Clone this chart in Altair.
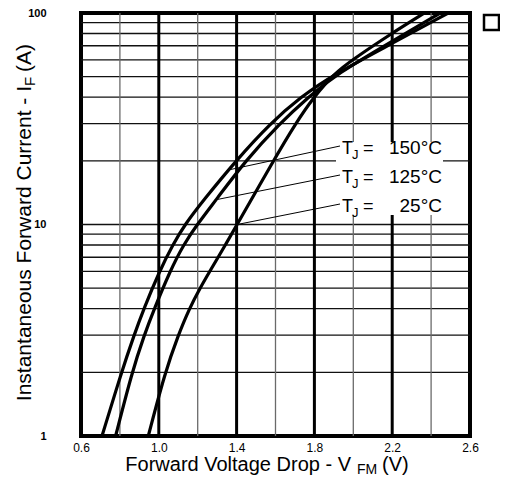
import altair as alt
import pandas as pd

# ---------------- data ----------------
V_150 = [0.708, 0.808, 0.873, 0.923, 1.003, 1.071, 1.134, 1.232, 1.396, 1.572, 1.728, 1.897, 2.184, 2.488]
I_150 = [1, 2, 3, 4, 6, 8, 10, 13.1, 20, 30, 40, 51, 70.5, 100]

V_125 = [0.778, 0.862, 0.925, 0.977, 1.057, 1.126, 1.197, 1.295, 1.445, 1.621, 1.768, 1.915, 2.205, 2.447]
I_125 = [1, 2, 3, 4, 6, 8, 10, 13.1, 20, 30, 40, 51.5, 74, 100]

V_25 = [0.946, 1.032, 1.100, 1.157, 1.212, 1.262, 1.342, 1.403, 1.589, 1.703, 1.796, 1.905, 1.994, 2.196, 2.366]
I_25 = [1, 2, 3, 4, 5, 6, 8, 10, 20, 30, 40, 52, 60, 80, 100]

series_names = ["150°C", "125°C", "25°C"]
leader_V = [1.357, 1.295, 1.403]   # where each label's leader touches its curve
leader_I = [18.1, 13.1, 10.0]

x_ticks = [0.6, 1.0, 1.4, 1.8, 2.2, 2.6]
y_ticks = [1, 10, 100]
x_grid_major = [1.0, 1.4, 1.8, 2.2]
x_grid_minor = [0.8, 1.2, 1.6, 2.0, 2.4]
y_grid = [2, 3, 4, 5, 6, 7, 8, 9, 10, 20, 30, 40, 50, 60, 70, 80, 90]

x_title = "Forward Voltage Drop - V"
x_title_sub = "FM"
x_title_end = "(V)"
y_title = "Instantaneous Forward Current - I"
y_title_sub = "F"
y_title_end = "(A)"

# ---------------- tables ----------------
curves = pd.concat([
    pd.DataFrame({"V": V_150, "I": I_150, "s": series_names[0]}),
    pd.DataFrame({"V": V_125, "I": I_125, "s": series_names[1]}),
    pd.DataFrame({"V": V_25, "I": I_25, "s": series_names[2]}),
])

W, H = 389, 423
FONT = "Liberation Sans"

xscale = alt.Scale(domain=[0.6, 2.6], nice=False, zero=False)
yscale = alt.Scale(type="log", domain=[1, 100], nice=False)
x_axis = alt.Axis(values=x_ticks, format=".1f", domain=False, ticks=False, grid=False,
                  labelFont=FONT, labelFontSize=12, labelPadding=6, labelFlush=False,
                  labelOverlap=False, labelColor="black", title=None)
y_axis = alt.Axis(values=y_ticks, format="d", domain=False, ticks=False, grid=False,
                  labelFont=FONT, labelFontSize=11, labelFontWeight="bold", labelPadding=35,
                  labelOverlap=False, labelColor="black", title=None)

def X(f="V"):
    return alt.X(f + ":Q", scale=xscale, axis=x_axis)

def Y(f="I"):
    return alt.Y(f + ":Q", scale=yscale, axis=y_axis)

one = alt.Data(values=[{}])

def txt(s, x, y, size, align="left", angle=None):
    kw = dict(font=FONT, fontSize=size, align=align, baseline="alphabetic", color="black")
    if angle is not None:
        kw["angle"] = angle
    return alt.Chart(one).mark_text(**kw).encode(x=alt.value(x), y=alt.value(y), text=alt.value(s))

layers = []

# grid
layers.append(alt.Chart(pd.DataFrame({"I": y_grid})).mark_rule(color="#111", strokeWidth=1.3)
              .encode(y=Y()))
layers.append(alt.Chart(pd.DataFrame({"V": x_grid_minor})).mark_rule(color="#6a6a6a", strokeWidth=1.3)
              .encode(x=X()))
layers.append(alt.Chart(pd.DataFrame({"V": x_grid_major})).mark_rule(color="black", strokeWidth=3)
              .encode(x=X()))

# white box behind the labels
layers.append(alt.Chart(one).mark_rect(fill="white")
              .encode(x=alt.value(255), x2=alt.value(362), y=alt.value(129), y2=alt.value(202)))

# curves
layers.append(alt.Chart(curves).mark_line(color="black", strokeWidth=3.2, interpolate="basis")
              .encode(x=X(), y=Y(), detail="s:N"))

# labels with leaders
row_base = [141, 170, 199]
for k, name in enumerate(series_names):
    rb = row_base[k]
    ld = pd.DataFrame({"V": [leader_V[k]], "I": [leader_I[k]]})
    layers.append(alt.Chart(ld).mark_rule(color="black", strokeWidth=1)
                  .encode(x=X(), y=Y(), x2=alt.value(259), y2=alt.value(rb - 8)))
    layers.append(txt("T", 261, rb, 18))
    layers.append(txt("J", 271, rb + 5, 13))
    layers.append(txt("=", 282, rb, 18))
    layers.append(txt(name, 361, rb, 19, align="right"))

# x title
layers.append(txt(x_title, 270, 458, 20, align="right"))
layers.append(txt(x_title_sub, 276, 461, 14))
layers.append(txt(x_title_end, 301, 458, 20))

# y title (rotated)
layers.append(txt(y_title, -50, 73, 21, align="right", angle=270))
layers.append(txt(y_title_sub, -46, 73, 15, angle=270))
layers.append(txt(y_title_end, -50, 59, 21, angle=270))

# the small square at top right
layers.append(alt.Chart(one).mark_rect(fill="white", stroke="black", strokeWidth=2.5)
              .encode(x=alt.value(403), x2=alt.value(418), y=alt.value(2), y2=alt.value(17)))

chart = alt.layer(*layers).properties(
    width=W, height=H,
    autosize=alt.AutoSizeParams(type="none"),
    padding={"left": 73, "top": 5, "right": 30, "bottom": 41},
    background="white",
).configure_view(stroke="black", strokeWidth=4)

chart.save("out.html", embed_options={"renderer": "svg", "actions": False})
